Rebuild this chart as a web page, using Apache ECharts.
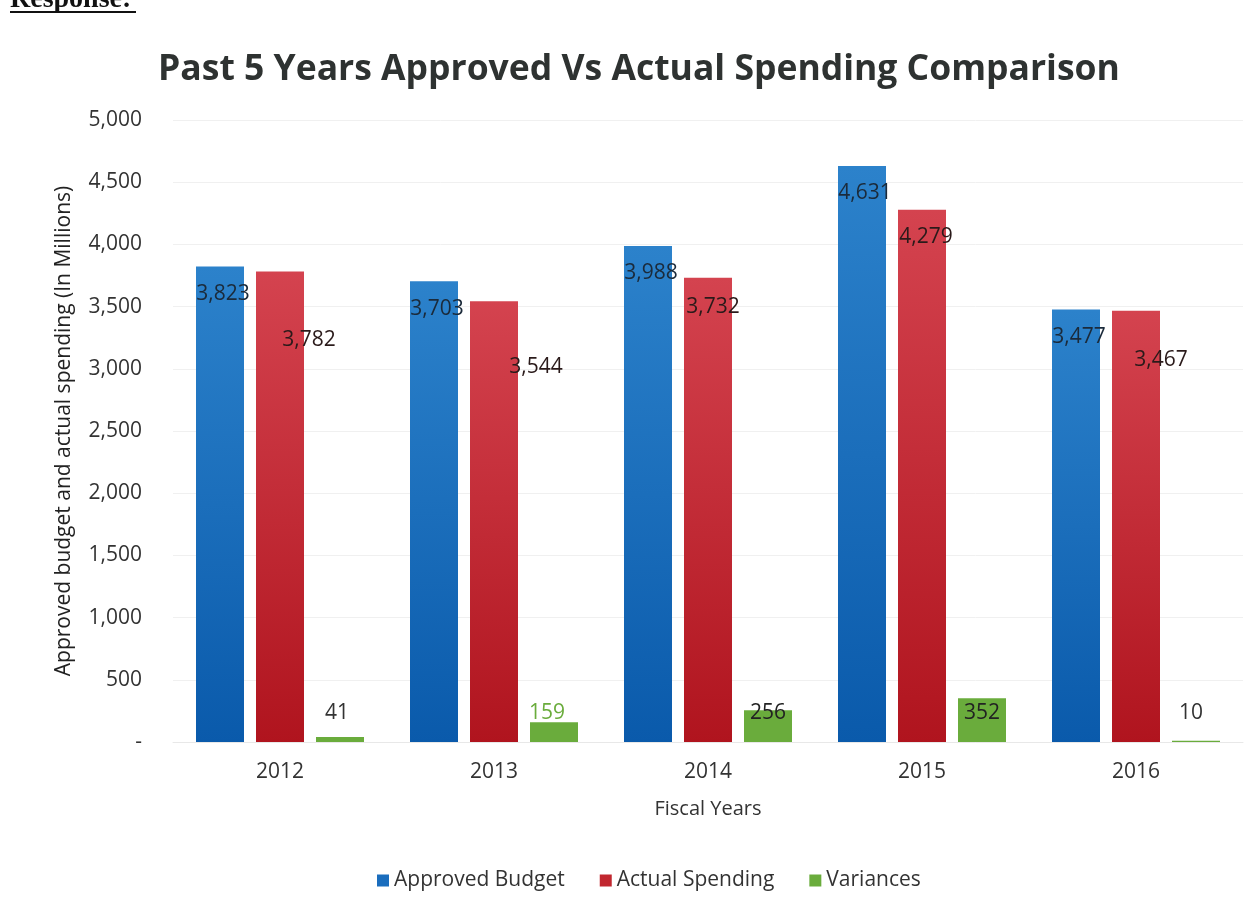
<!DOCTYPE html>
<html>
<head>
<meta charset="utf-8">
<script src="https://cdn.jsdelivr.net/npm/echarts@6/dist/echarts.min.js"></script>
<style>
html,body{margin:0;padding:0;background:#fff;}
#c{width:1249px;height:909px;}
</style>
</head>
<body>
<div id="c"></div>
<script>
const years = ['2012', '2013', '2014', '2015', '2016'];
const approvedBudget = [3823, 3703, 3988, 4631, 3477];
const actualSpending = [3782, 3544, 3732, 4279, 3467];
const variances = [41, 159, 256, 352, 10];
const yTicks = [0, 500, 1000, 1500, 2000, 2500, 3000, 3500, 4000, 4500, 5000];

// label placement styling (not data)
const redLabelOffsets = [[29, 53], [42, 50], [5, 14], [4, 12], [25, 34]];
const greenLabelColors = ['#333', '#6aac3c', '#222', '#222', '#333'];
const greenLabelDx = [-3, -7, 0, 0, -5];

const FONT = '"Open Sans", "Noto Sans", sans-serif';
const fmt = v => v === 0 ? '-' : v.toLocaleString('en-US');

const grad = (top, bottom) => new echarts.graphic.LinearGradient(0, 0, 0, 1, [
  { offset: 0, color: top }, { offset: 1, color: bottom }
]);

const chart = echarts.init(document.getElementById('c'), null, { renderer: 'canvas' });
chart.setOption({
  backgroundColor: '#fff',
  animation: false,
  title: {
    text: 'Past 5 Years Approved Vs Actual Spending Comparison',
    left: 153,
    top: 47,
    textStyle: { fontFamily: FONT, fontWeight: 'bold', fontSize: 35.5, color: '#2e3231' }
  },
  graphic: [
    { type: 'text', left: 10, top: -14, style: { text: 'Response:', font: 'bold 28px "Liberation Serif", serif', fill: '#111' } },
    { type: 'rect', shape: { x: 10, y: 11, width: 126, height: 2 }, style: { fill: '#111' } }
  ],
  legend: {
    top: 865,
    left: 372,
    itemWidth: 12,
    itemHeight: 12,
    itemGap: 35,
    icon: 'rect',
    textStyle: { fontFamily: FONT, fontSize: 21, color: '#333' },
    data: [
      { name: 'Approved Budget', itemStyle: { color: '#1a6dbd' } },
      { name: 'Actual Spending', itemStyle: { color: '#c1272f' } },
      { name: 'Variances', itemStyle: { color: '#6aac3c' } }
    ]
  },
  grid: { left: 173, width: 1070, top: 120, height: 622 },
  xAxis: {
    type: 'category',
    data: years,
    axisTick: { show: false },
    axisLine: { show: true, lineStyle: { color: '#e8e8e8' } },
    axisLabel: { fontFamily: FONT, fontSize: 21, color: '#333', margin: 20 },
    name: 'Fiscal Years',
    nameLocation: 'middle',
    nameGap: 57,
    nameTextStyle: { fontFamily: FONT, fontSize: 20, color: '#333' }
  },
  yAxis: {
    type: 'value',
    min: yTicks[0],
    max: yTicks[yTicks.length - 1],
    interval: yTicks[1] - yTicks[0],
    axisLine: { show: false },
    axisTick: { show: false },
    splitLine: { show: true, lineStyle: { color: '#f0f0f0' } },
    axisLabel: { fontFamily: FONT, fontSize: 21, color: '#333', margin: 31, formatter: v => fmt(v) },
    name: 'Approved budget and actual spending (In Millions)',
    nameLocation: 'middle',
    nameGap: 98,
    nameTextStyle: { fontFamily: FONT, fontSize: 21, color: '#222' }
  },
  series: [
    {
      name: 'Approved Budget',
      type: 'bar',
      barWidth: 48,
      barGap: '25%',
      itemStyle: { color: grad('#2c82cb', '#0a5aab') },
      label: {
        show: true, position: 'insideTop', offset: [3, 12],
        fontFamily: FONT, fontSize: 21, color: '#1b2a3a', formatter: p => fmt(p.value)
      },
      data: approvedBudget
    },
    {
      name: 'Actual Spending',
      type: 'bar',
      barWidth: 48,
      itemStyle: { color: grad('#d4434f', '#b0141e') },
      label: {
        show: true, position: 'insideTop',
        fontFamily: FONT, fontSize: 21, color: '#2a1a1a', formatter: p => fmt(p.value)
      },
      data: actualSpending.map((v, i) => ({ value: v, label: { offset: redLabelOffsets[i] } }))
    },
    {
      name: 'Variances',
      type: 'bar',
      barWidth: 48,
      itemStyle: { color: '#6aac3c' },
      label: {
        show: true, position: 'insideBottom', distance: 18,
        fontFamily: FONT, fontSize: 21, formatter: p => fmt(p.value)
      },
      data: variances.map((v, i) => ({ value: v, label: { color: greenLabelColors[i], offset: [greenLabelDx[i], 0] } }))
    }
  ]
});
</script>
</body>
</html>
